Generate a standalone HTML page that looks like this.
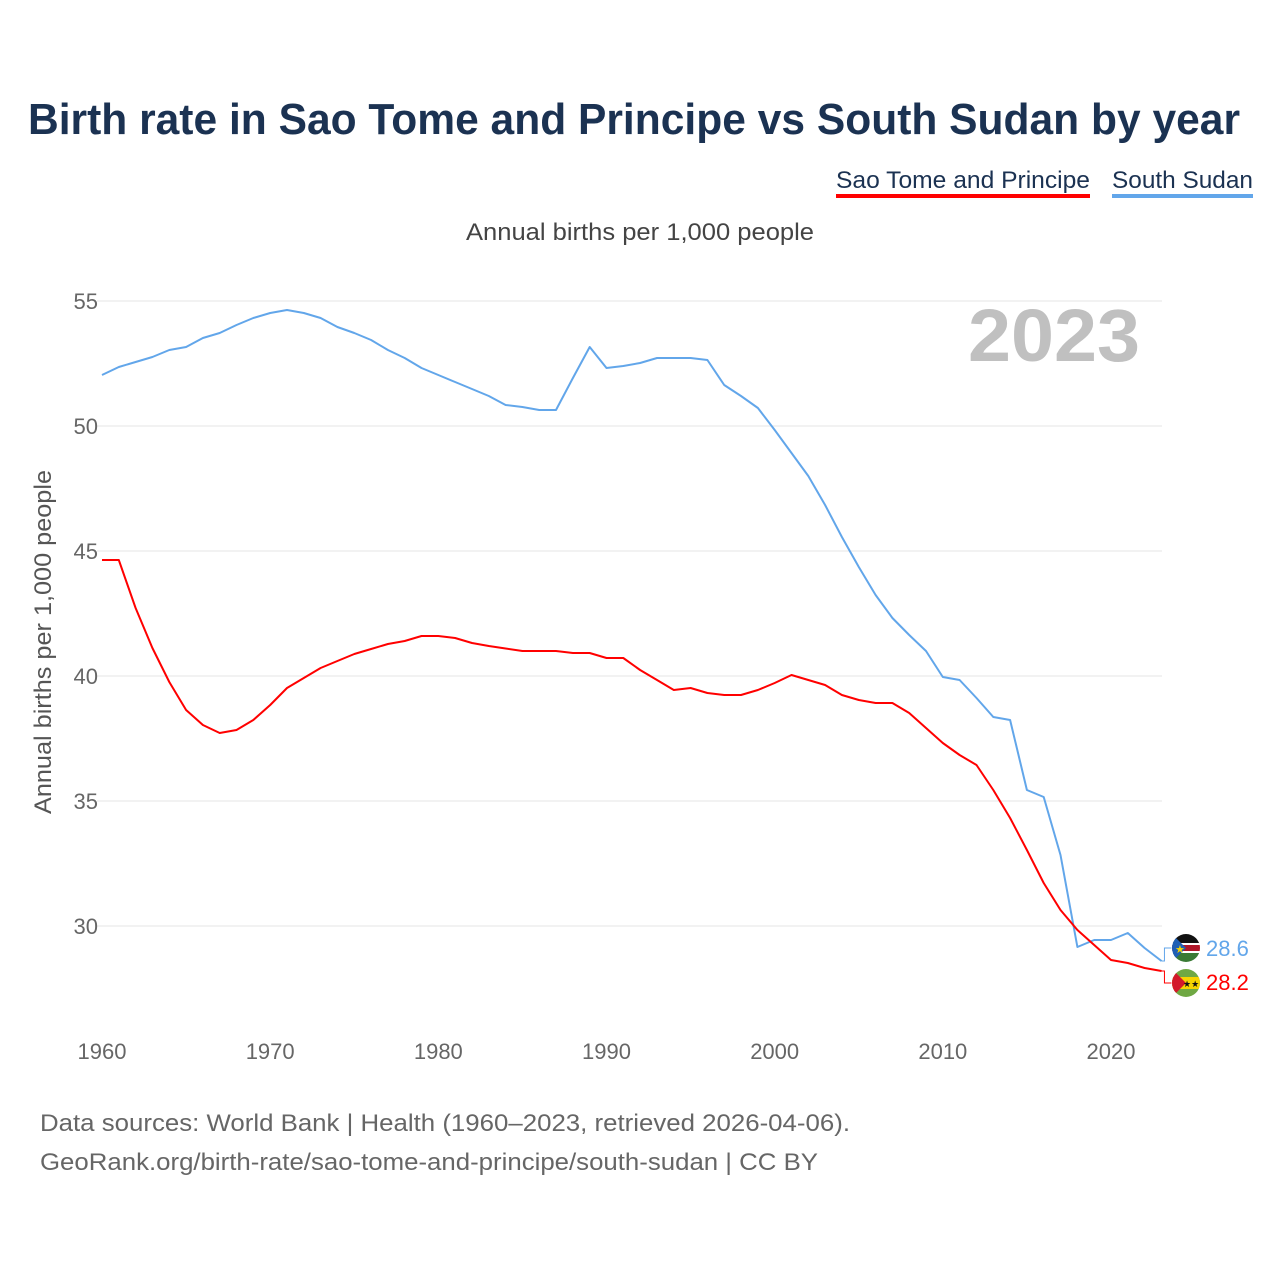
<!DOCTYPE html>
<html><head><meta charset="utf-8"><style>
html,body{margin:0;padding:0;background:#fff;}
svg{display:block;font-family:"Liberation Sans",sans-serif;}
</style></head><body>
<svg id="chart" width="1280" height="1280" viewBox="0 0 1280 1280" xmlns="http://www.w3.org/2000/svg">
<rect width="1280" height="1280" fill="#fff"/>
<text x="28" y="134" font-size="44" font-weight="bold" fill="#1b3252" textLength="1212" lengthAdjust="spacingAndGlyphs">Birth rate in Sao Tome and Principe vs South Sudan by year</text>
<g>
<text x="836" y="188" font-size="24" fill="#1b3252" textLength="254" lengthAdjust="spacingAndGlyphs">Sao Tome and Principe</text>
<rect x="836" y="194" width="254" height="4" fill="#ff0000"/>
<text x="1112" y="188" font-size="24" fill="#1b3252" textLength="141" lengthAdjust="spacingAndGlyphs">South Sudan</text>
<rect x="1112" y="194" width="141" height="4" fill="#62a6ea"/>
</g>
<text x="640" y="240" font-size="24" fill="#444" text-anchor="middle" textLength="348" lengthAdjust="spacingAndGlyphs">Annual births per 1,000 people</text>
<text x="968" y="361" font-size="74" font-weight="bold" fill="#c0c0c0" textLength="172" lengthAdjust="spacingAndGlyphs">2023</text>
<text transform="translate(51,642) rotate(-90)" font-size="24" fill="#555" text-anchor="middle" textLength="344" lengthAdjust="spacingAndGlyphs">Annual births per 1,000 people</text>
<g id="grid"></g><g id="xticks"></g><g id="series"></g>
<defs>
<clipPath id="c1"><circle cx="1186" cy="948" r="14"/></clipPath>
<clipPath id="c2"><circle cx="1186" cy="983" r="14"/></clipPath>
</defs>
<g clip-path="url(#c1)">
<rect x="1172" y="934" width="28" height="9" fill="#111"/>
<rect x="1172" y="943" width="28" height="2" fill="#fff"/>
<rect x="1172" y="945" width="28" height="6" fill="#b0172a"/>
<rect x="1172" y="951" width="28" height="2" fill="#fff"/>
<rect x="1172" y="953" width="28" height="9" fill="#3a7a35"/>
<polygon points="1172,934 1186,948 1172,962" fill="#1f5fb4"/>
<text x="1175" y="953" font-size="11" fill="#f6d400">★</text>
</g>
<g clip-path="url(#c2)">
<rect x="1172" y="969" width="28" height="28" fill="#6fa843"/>
<rect x="1172" y="977" width="28" height="12" fill="#f6d400"/>
<polygon points="1172,969 1186,983 1172,997" fill="#d3192b"/>
<text x="1183" y="987" font-size="9" fill="#111">★★</text>
</g>
<text x="1206" y="956" font-size="22" fill="#62a6ea">28.6</text>
<text x="1206" y="990" font-size="22" fill="#ff0000">28.2</text>
<text x="40" y="1131" font-size="24" fill="#666" textLength="810" lengthAdjust="spacingAndGlyphs">Data sources: World Bank | Health (1960–2023, retrieved 2026-04-06).</text>
<text x="40" y="1170" font-size="24" fill="#666" textLength="778" lengthAdjust="spacingAndGlyphs">GeoRank.org/birth-rate/sao-tome-and-principe/south-sudan | CC BY</text>
</svg>
<script>
const years = [];
for (let y = 1960; y <= 2023; y++) years.push(y);
const southSudan = [52.04,52.36,52.56,52.76,53.04,53.16,53.52,53.72,54.04,54.32,54.52,54.64,54.52,54.32,53.96,53.72,53.44,53.04,52.72,52.32,52.04,51.76,51.48,51.2,50.84,50.76,50.64,50.64,51.92,53.16,52.32,52.4,52.52,52.72,52.72,52.72,52.64,51.64,51.2,50.72,49.84,48.92,48.0,46.84,45.56,44.36,43.24,42.32,41.64,41.0,39.96,39.84,39.12,38.36,38.24,35.44,35.16,32.84,29.16,29.44,29.44,29.72,29.12,28.6];
const saoTome = [44.64,44.64,42.72,41.12,39.76,38.64,38.04,37.72,37.84,38.24,38.84,39.52,39.92,40.32,40.6,40.88,41.08,41.28,41.4,41.6,41.6,41.52,41.32,41.2,41.1,41.0,41.0,41.0,40.92,40.92,40.72,40.72,40.24,39.84,39.44,39.52,39.32,39.24,39.24,39.44,39.72,40.04,39.84,39.64,39.24,39.04,38.92,38.92,38.52,37.92,37.32,36.84,36.44,35.44,34.32,33.04,31.72,30.64,29.84,29.24,28.64,28.52,28.32,28.2];
const yTicks = [30,35,40,45,50,55];
const xTicks = [1960,1970,1980,1990,2000,2010,2020];

const NS = 'http://www.w3.org/2000/svg';
const xScale = v => 102 + (v - 1960) * (1009 / 60);
const yScale = v => 926 - (v - 30) * 25;

const grid = document.getElementById('grid');
yTicks.forEach(t => {
  const l = document.createElementNS(NS, 'line');
  
  
  l.setAttribute('x1', 97); l.setAttribute('x2', 1162);
  l.setAttribute('y1', yScale(t)); l.setAttribute('y2', yScale(t));
  l.setAttribute('stroke', '#e6e6e6'); l.setAttribute('stroke-width', 1);
  grid.appendChild(l);
  const tx = document.createElementNS(NS, 'text');
  
  
  tx.setAttribute('x', 98); tx.setAttribute('y', yScale(t) + 8);
  tx.setAttribute('text-anchor', 'end'); tx.setAttribute('font-size', '22'); tx.setAttribute('fill', '#666');
  tx.textContent = t;
  grid.appendChild(tx);
});
const xg = document.getElementById('xticks');
xTicks.forEach(t => {
  const tx = document.createElementNS(NS, 'text');
  
  
  tx.setAttribute('x', xScale(t)); tx.setAttribute('y', 1059);
  tx.setAttribute('text-anchor', 'middle'); tx.setAttribute('font-size', '22'); tx.setAttribute('fill', '#666');
  tx.textContent = t;
  xg.appendChild(tx);
});
function drawLine(vals, color, name, labelY) {
  const pts = vals.map((v, i) => xScale(years[i]).toFixed(1) + ',' + yScale(v).toFixed(1));
  const lastX = xScale(years[vals.length - 1]), lastY = yScale(vals[vals.length - 1]);
  const p = document.createElementNS(NS, 'polyline');
  
  
  p.setAttribute('points', pts.join(' '));
  p.setAttribute('fill', 'none'); p.setAttribute('stroke', color); p.setAttribute('stroke-width', 2);
  p.setAttribute('stroke-linejoin', 'round');
  document.getElementById('series').appendChild(p);
  const c = document.createElementNS(NS, 'polyline');
  
  
  c.setAttribute('points', lastX + ',' + lastY + ' ' + (lastX + 3) + ',' + lastY + ' ' + (lastX + 3) + ',' + labelY + ' ' + (lastX + 10) + ',' + labelY);
  c.setAttribute('fill', 'none'); c.setAttribute('stroke', color); c.setAttribute('stroke-width', 1);
  document.getElementById('series').appendChild(c);
}
drawLine(southSudan, '#62a6ea', 'south-sudan-line', 948);
drawLine(saoTome, '#ff0000', 'sao-tome-line', 983);
</script>
</body></html>
